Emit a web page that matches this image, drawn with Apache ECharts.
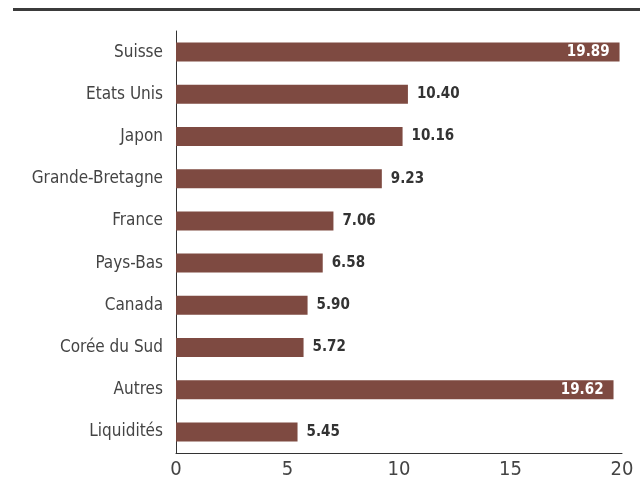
<!DOCTYPE html>
<html>
<head>
<meta charset="utf-8">
<script src="https://cdn.jsdelivr.net/npm/echarts@6/dist/echarts.min.js"></script>
<style>
  html, body { margin: 0; padding: 0; background: #fff; }
  #chart { width: 642px; height: 483px; }
</style>
</head>
<body>
<div id="chart"></div>
<script>
// données
var pays = ['Suisse', 'Etats Unis', 'Japon', 'Grande-Bretagne', 'France', 'Pays-Bas', 'Canada', 'Corée du Sud', 'Autres', 'Liquidités'];
var poids = [19.89, 10.40, 10.16, 9.23, 7.06, 6.58, 5.90, 5.72, 19.62, 5.45];
var ticks = [0, 5, 10, 15, 20];

var police = '"Liberation Sans Narrow", "DejaVu Sans Condensed", sans-serif';
var chart = echarts.init(document.getElementById('chart'));

// les grandes barres ont leur étiquette à l'intérieur
var donnees = poids.map(function (v) {
    var grand = v > 15;
    return {
        value: v,
        label: grand ? { position: 'insideRight', color: '#fff', distance: 10 } : {}
    };
});

chart.setOption({
    animation: false,
    textStyle: { fontFamily: police },
    graphic: [{
        type: 'rect',
        shape: { x: 13, y: 8, width: 627, height: 3 },
        style: { fill: '#3b3b3b' }
    }],
    grid: { left: 176, right: 20, top: 31, bottom: 30 },
    xAxis: {
        type: 'value',
        min: ticks[0],
        max: ticks[ticks.length - 1],
        interval: 5,
        splitLine: { show: false },
        axisTick: { show: false },
        axisLine: { show: true, lineStyle: { color: '#333', width: 1 } },
        axisLabel: { color: '#444', fontSize: 20, fontFamily: police, margin: 7 }
    },
    yAxis: {
        type: 'category',
        data: pays,
        inverse: true,
        axisTick: { show: false },
        axisLine: { show: true, lineStyle: { color: '#333', width: 1 } },
        axisLabel: { color: '#444', fontSize: 17, fontFamily: police, margin: 13 }
    },
    series: [{
        type: 'bar',
        data: donnees,
        barWidth: 19,
        itemStyle: { color: '#7e4a41' },
        label: {
            show: true,
            position: 'right',
            distance: 9,
            color: '#333',
            fontWeight: 'bold',
            fontSize: 15,
            fontFamily: police,
            formatter: function (p) { return p.value.toFixed(2); }
        }
    }]
});
</script>
</body>
</html>
